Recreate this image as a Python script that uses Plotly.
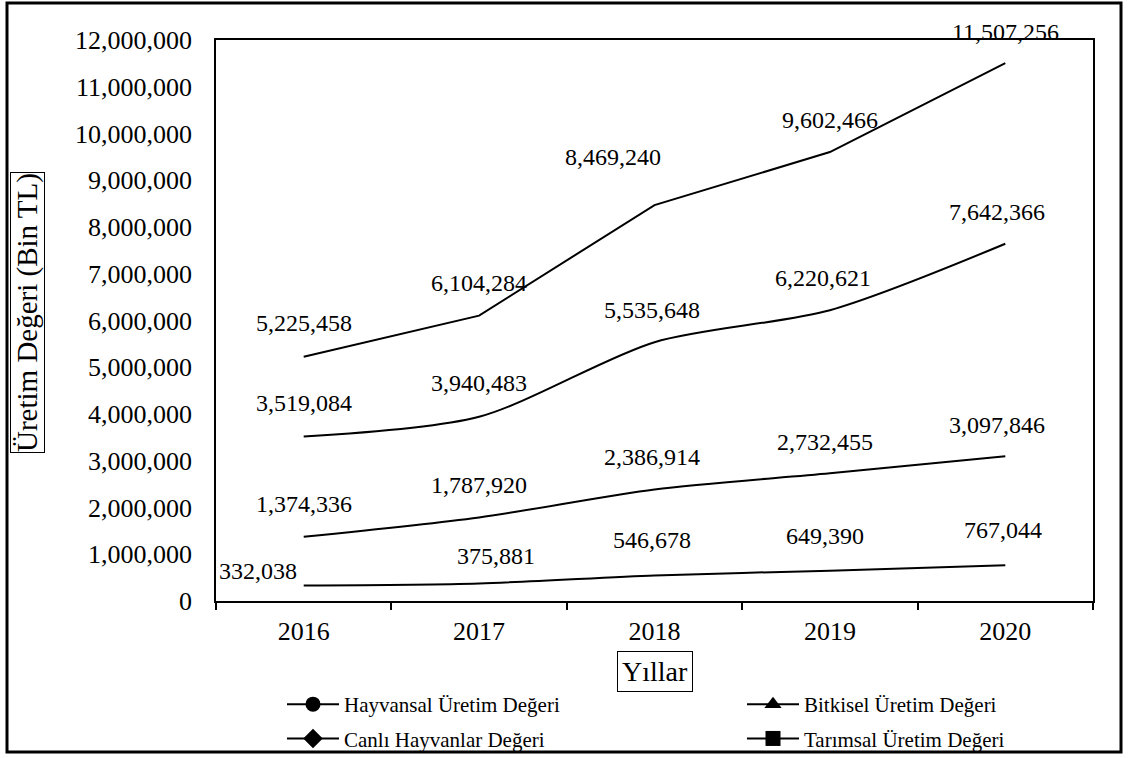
import plotly.graph_objects as go

# ---------------- data ----------------
years = ["2016", "2017", "2018", "2019", "2020"]
hayvansal = [1374336, 1787920, 2386914, 2732455, 3097846]
bitkisel = [3519084, 3940483, 5535648, 6220621, 7642366]
canli = [332038, 375881, 546678, 649390, 767044]
tarimsal = [5225458, 6104284, 8469240, 9602466, 11507256]
y_ticks = list(range(0, 12000001, 1000000))

names = {
    "hay": "Hayvansal Üretim Değeri",
    "bit": "Bitkisel Üretim Değeri",
    "can": "Canlı Hayvanlar Değeri",
    "tar": "Tarımsal Üretim Değeri",
}
x_title = "Yıllar"
y_title = "Üretim Değeri (Bin TL)"

# ---------------- styling ----------------
W, H = 1129, 758
L, R, T, B = 216, 36, 40, 157
PW, PH = W - L - R, H - T - B
FONT = "Liberation Serif, Times New Roman, serif"

def px_x(p):
    return (p - L) / PW

def px_y(p):
    return (H - B - p) / PH

# label offsets in px (xshift, yshift)
label_dx = {
    "tar": [0, 0, -42, 0, 0],
    "bit": [0, 0, -3, -7, -8],
    "hay": [0, 0, -3, -5, -8],
    "can": [-46, 17, -3, -5, -2],
}
label_dy = {
    "tar": [34, 33, 48, 32, 31],
    "bit": [33, 34, 32, 32, 32],
    "hay": [33, 32, 32, 31, 31],
    "can": [14, 27, 35, 35, 35],
}
shape_of = {"tar": "linear", "bit": "spline", "hay": "spline", "can": "spline"}
symbol_of = {"hay": "circle", "bit": "triangle-up", "can": "diamond", "tar": "square"}
legend_of = {"hay": "legend", "can": "legend", "bit": "legend2", "tar": "legend2"}

values = {"hay": hayvansal, "bit": bitkisel, "can": canli, "tar": tarimsal}

fig = go.Figure()

for key in ["tar", "bit", "hay", "can"]:
    fig.add_trace(go.Scatter(
        x=years, y=values[key], mode="lines", name=names[key],
        line=dict(color="black", width=2, shape=shape_of[key], smoothing=0.8),
        showlegend=False, hoverinfo="x+y",
    ))

# legend entries (with markers as in the reference)
for key in ["hay", "can", "bit", "tar"]:
    fig.add_trace(go.Scatter(
        x=[None], y=[None], mode="lines+markers", name=names[key],
        line=dict(color="black", width=2),
        marker=dict(symbol=symbol_of[key], size=15, color="black"),
        legend=legend_of[key], legendgroup=key, showlegend=True,
    ))

annotations = []
for key in ["tar", "bit", "hay", "can"]:
    for i, v in enumerate(values[key]):
        annotations.append(dict(
            x=i, y=v, xref="x", yref="y", text=f"{v:,}", showarrow=False,
            xshift=label_dx[key][i], yshift=label_dy[key][i],
            font=dict(family=FONT, size=24, color="black"),
        ))

annotations.append(dict(
    x=px_x(28), y=px_y(313), xref="paper", yref="paper", text=y_title,
    xanchor="center", yanchor="middle",
    textangle=-90, showarrow=False, bordercolor="black", borderwidth=1,
    borderpad=0, font=dict(family=FONT, size=29, color="black"),
))
annotations.append(dict(
    x=0.5, y=px_y(671), xref="paper", yref="paper", text=x_title,
    xanchor="center", yanchor="middle",
    showarrow=False, bordercolor="black", borderwidth=1, borderpad=4,
    font=dict(family=FONT, size=28, color="black"),
))

legend_common = dict(
    orientation="v", bgcolor="rgba(0,0,0,0)", borderwidth=0,
    font=dict(family=FONT, size=21, color="black"),
    tracegroupgap=4, itemwidth=52, xanchor="left", yanchor="top",
    xref="container", yref="container",
)

fig.update_layout(
    width=W, height=H, autosize=False,
    margin=dict(l=L, r=R, t=T, b=B, autoexpand=False),
    paper_bgcolor="white", plot_bgcolor="white",
    font=dict(family=FONT, color="black"),
    annotations=annotations,
    legend=dict(x=282 / W, y=1 - 684 / H, **legend_common),
    legend2=dict(x=742 / W, y=1 - 684 / H, **legend_common),
    shapes=[dict(
        type="rect", xref="paper", yref="paper",
        x0=px_x(7), x1=px_x(1121), y0=px_y(752), y1=px_y(3),
        line=dict(color="black", width=3), fillcolor="rgba(0,0,0,0)", layer="below",
    )],
    xaxis=dict(
        type="category", range=[-0.5, 4.5], showline=True, linecolor="black",
        linewidth=1.5, mirror=True, ticks="outside", tickson="boundaries",
        ticklen=7, tickwidth=1.5, tickcolor="black", showgrid=False,
        tickfont=dict(family=FONT, size=26, color="black"),
        ticklabelstandoff=6, automargin=False,
    ),
    yaxis=dict(
        range=[0, 12000000], tickvals=y_ticks, tickformat=",", showline=True,
        linecolor="black", linewidth=1.5, mirror=True, ticks="", showgrid=False,
        zeroline=False, tickfont=dict(family=FONT, size=26, color="black"),
        ticklabelstandoff=17, automargin=False,
    ),
)

fig.write_html("out.html")
